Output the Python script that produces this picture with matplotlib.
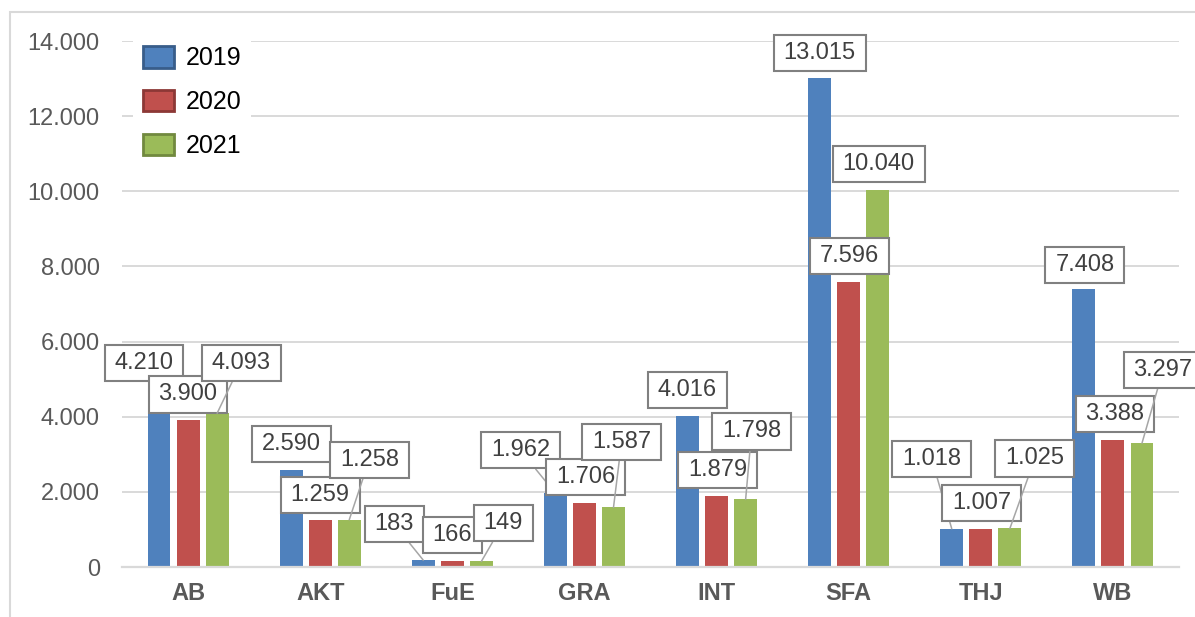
import matplotlib
matplotlib.use('Agg')
import matplotlib.pyplot as plt
import numpy as np
from matplotlib.patches import Patch, Rectangle
from matplotlib.path import Path
from matplotlib.ticker import FuncFormatter

plt.rcParams['font.family'] = ['Liberation Sans', 'DejaVu Sans']

categories = ['AB', 'AKT', 'FuE', 'GRA', 'INT', 'SFA', 'THJ', 'WB']
years = ['2019', '2020', '2021']
v2019 = [4210, 2590, 183, 1962, 4016, 13015, 1018, 7408]
v2020 = [3900, 1259, 166, 1706, 1879, 7596, 1007, 3388]
v2021 = [4093, 1258, 149, 1587, 1798, 10040, 1025, 3297]

# label box offsets from bar top, in pixels (dx, dy up)
off2019 = [(-15, 46), (0, 26), (-29, 36), (-35, 43), (0, 26), (0, 25), (-20, 70), (1, 24)]
off2020 = [(0, 26), (0, 25), (0, 26), (1, 26), (1, 26), (1, 26), (1, 26), (2, 26)]
off2021 = [(24, 50), (20, 60), (22, 38), (8, 65), (6, 68), (1, 26), (25, 70), (21, 73)]

colors = ['#4F81BD', '#C0504D', '#9BBB59']
edges = ['#385D8A', '#8C3836', '#71893F']
grid_c = '#D9D9D9'
txt_c = '#595959'

W, H = 1195, 617
fig = plt.figure(figsize=(W / 100, H / 100), dpi=100)
ax = fig.add_axes([122 / W, 1 - 567 / H, (1179 - 122) / W, (567 - 41) / H])

x = np.arange(len(categories))
step = 0.22
width = 0.174
series = [v2019, v2020, v2021]
offsets = [off2019, off2020, off2021]

for k, vals in enumerate(series):
    ax.bar(x + (k - 1) * step, vals, width, color=colors[k], zorder=2)

def fmt(v):
    return f"{int(v):,}".replace(",", ".")

# square box, a bit wider than tall padding
def label_box(x0, y0, width, height, mutation_size):
    px = 0.42 * mutation_size
    py = 0.3 * mutation_size
    x0, y0 = x0 - px, y0 - py
    x1, y1 = x0 + width + 2 * px, y0 + height + 2 * py
    return Path([(x0, y0), (x1, y0), (x1, y1), (x0, y1), (x0, y0)], closed=True)

for k, vals in enumerate(series):
    for i, v in enumerate(vals):
        dx, dy = offsets[k][i]
        leader = dy > 32 or abs(dx) > 10
        ap = None
        if leader:
            ap = dict(arrowstyle='-', color='#A6A6A6', lw=1.1, shrinkA=0, shrinkB=0)
        ax.annotate(fmt(v), xy=(x[i] + (k - 1) * step, v), xytext=(dx, dy),
                    textcoords='offset pixels', ha='center', va='center',
                    fontsize=17, color='#404040', zorder=5,
                    bbox=dict(boxstyle=label_box, fc='white', ec='#808080', lw=1.5),
                    arrowprops=ap, annotation_clip=False)

ax.set_xlim(-0.5, len(categories) - 0.5)
ax.set_ylim(0, 14000)
ax.set_yticks(np.arange(0, 14001, 2000))
ax.yaxis.set_major_formatter(FuncFormatter(lambda v, p: fmt(v)))
ax.set_xticks(x)
ax.set_xticklabels(categories, fontweight='bold')
ax.tick_params(axis='y', length=0, pad=16, labelsize=17, labelcolor=txt_c)
ax.tick_params(axis='x', length=0, pad=11, labelsize=17, labelcolor=txt_c)
ax.grid(axis='y', color=grid_c, lw=1.4, zorder=0)
ax.set_axisbelow(True)
for s in ['top', 'right', 'left']:
    ax.spines[s].set_visible(False)
ax.spines['bottom'].set_color(grid_c)
ax.spines['bottom'].set_linewidth(1.6)

handles = [Patch(facecolor=colors[k], edgecolor=edges[k], linewidth=2, label=years[k])
           for k in range(3)]
leg = ax.legend(handles=handles, loc='upper left', bbox_to_anchor=(133 / W, 1 - 36 / H),
                bbox_transform=fig.transFigure, fontsize=18, frameon=True,
                handlelength=1.25, handleheight=0.95, labelspacing=0.78,
                handletextpad=0.45, borderpad=0.4, borderaxespad=0, fancybox=False)
leg.get_frame().set_facecolor('white')
leg.get_frame().set_edgecolor('none')
leg.get_frame().set_alpha(1)
leg.set_zorder(6)

fig.add_artist(Rectangle((10 / W, -0.1), 1.2, 1.1 - 12 / H, transform=fig.transFigure,
                         fill=False, ec=grid_c, lw=1.5))

fig.savefig('out.png', dpi=100)
